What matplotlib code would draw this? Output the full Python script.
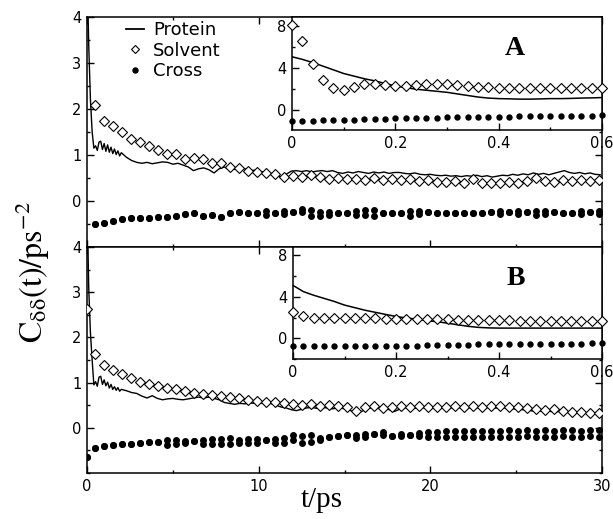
import numpy as np
import matplotlib
matplotlib.use('Agg')
import matplotlib.pyplot as plt
from matplotlib.ticker import MultipleLocator
from matplotlib.lines import Line2D

plt.rcParams['font.family'] = ['DejaVu Sans']
plt.rcParams['mathtext.fontset'] = 'stix'

# ---------------- data ----------------
# protein (line) sampling: dense early part, then coarser
t_prot_early = [0.0, 0.1, 0.2, 0.3, 0.4, 0.5, 0.6, 0.7, 0.8, 0.9, 1.0,
                1.1, 1.2, 1.3, 1.4, 1.5, 1.6, 1.7, 1.8, 1.9, 2.0]
protA_early = [5.1, 3.4, 2.2, 1.5, 1.15, 1.2, 1.1, 1.28, 1.3, 1.12, 1.25,
               1.08, 1.22, 1.06, 1.17, 1.03, 1.13, 1.01, 1.09, 0.98, 1.05]
protA_late = [0.95, 0.88, 0.84, 0.82, 0.84, 0.81, 0.83, 0.85, 0.84, 0.80,
              0.82, 0.78, 0.74, 0.66, 0.70, 0.72, 0.68, 0.61, 0.70, 0.74,
              0.68, 0.69, 0.73, 0.70, 0.66, 0.67, 0.64, 0.63, 0.60, 0.57,
              0.52, 0.58, 0.65, 0.66, 0.64, 0.66, 0.63, 0.65, 0.66, 0.64,
              0.66, 0.62, 0.60, 0.63, 0.61, 0.64, 0.62, 0.60, 0.63, 0.61,
              0.63, 0.60, 0.62, 0.62, 0.60, 0.59, 0.61, 0.58, 0.57, 0.58,
              0.56, 0.55, 0.56, 0.54, 0.55, 0.53, 0.55, 0.54, 0.56, 0.53,
              0.55, 0.52, 0.54, 0.56, 0.55, 0.58, 0.56, 0.59, 0.57, 0.61,
              0.58, 0.60, 0.57, 0.60, 0.63, 0.66, 0.62, 0.60, 0.62, 0.59,
              0.61, 0.58, 0.57]
protB_early = [5.1, 3.1, 2.1, 1.5, 0.95, 1.02, 0.92, 1.12, 1.14, 0.96, 1.06,
               0.93, 1.01, 0.88, 0.96, 0.85, 0.91, 0.83, 0.89, 0.81, 0.85]
protB_late = [0.82, 0.78, 0.76, 0.70, 0.66, 0.71, 0.65, 0.62, 0.64, 0.65,
              0.63, 0.62, 0.64, 0.66, 0.68, 0.66, 0.68, 0.65, 0.62, 0.56,
              0.54, 0.52, 0.54, 0.53, 0.55, 0.54, 0.55, 0.53, 0.54, 0.50,
              0.46, 0.44, 0.40, 0.38, 0.41, 0.44, 0.45, 0.43, 0.45, 0.44,
              0.42, 0.44, 0.43, 0.40, 0.36, 0.33, 0.38, 0.43, 0.45, 0.43,
              0.44, 0.40, 0.36, 0.41, 0.44, 0.45, 0.43, 0.45, 0.44, 0.46,
              0.44, 0.43, 0.45, 0.44, 0.46, 0.44, 0.43, 0.45, 0.44, 0.46,
              0.45, 0.43, 0.44, 0.45, 0.43, 0.42, 0.41, 0.40, 0.39, 0.37,
              0.38, 0.36, 0.37, 0.35, 0.36, 0.34, 0.35, 0.33, 0.34, 0.33,
              0.32, 0.33, 0.38]
t_prot_late = np.linspace(2.3, 29.9, len(protA_late))

# marker sampling times (ps)
t_pts = np.concatenate([[0.0], np.linspace(0.45, 29.85, 57)])

solvA = [8.1, 2.09, 1.75, 1.64, 1.49, 1.34, 1.29, 1.20, 1.10, 1.03, 1.03,
         0.92, 0.94, 0.92, 0.83, 0.83, 0.74, 0.71, 0.65, 0.63, 0.60, 0.58,
         0.52, 0.55, 0.53, 0.56, 0.52, 0.48, 0.50, 0.47, 0.48, 0.46, 0.49,
         0.46, 0.47, 0.45, 0.47, 0.44, 0.46, 0.42, 0.41, 0.44, 0.40, 0.47,
         0.39, 0.40, 0.39, 0.41, 0.39, 0.43, 0.49, 0.44, 0.42, 0.45, 0.43,
         0.46, 0.44, 0.45]
crossA_hi = [-1.05, -0.51, -0.47, -0.44, -0.40, -0.38, -0.36, -0.36, -0.35,
             -0.34, -0.32, -0.29, -0.27, -0.32, -0.30, -0.34, -0.27, -0.24,
             -0.25, -0.25, -0.22, -0.25, -0.21, -0.24, -0.18, -0.20, -0.23,
             -0.24, -0.25, -0.25, -0.21, -0.20, -0.20, -0.25, -0.25, -0.25,
             -0.21, -0.22, -0.24, -0.25, -0.25, -0.26, -0.27, -0.25, -0.25,
             -0.24, -0.22, -0.24, -0.21, -0.24, -0.21, -0.22, -0.24, -0.25,
             -0.25, -0.21, -0.24, -0.22]
crossA_lo = [-1.05, -0.51, -0.47, -0.44, -0.40, -0.38, -0.36, -0.36, -0.35,
             -0.34, -0.32, -0.29, -0.27, -0.32, -0.30, -0.34, -0.27, -0.24,
             -0.25, -0.25, -0.30, -0.25, -0.29, -0.24, -0.23, -0.33, -0.32,
             -0.30, -0.25, -0.25, -0.31, -0.30, -0.33, -0.25, -0.25, -0.25,
             -0.32, -0.29, -0.24, -0.25, -0.25, -0.26, -0.27, -0.25, -0.25,
             -0.24, -0.29, -0.24, -0.28, -0.24, -0.30, -0.28, -0.24, -0.25,
             -0.25, -0.29, -0.24, -0.29]

solvB = [2.62, 1.64, 1.38, 1.28, 1.18, 1.11, 1.01, 0.96, 0.93, 0.89, 0.85,
         0.81, 0.77, 0.74, 0.73, 0.70, 0.68, 0.65, 0.61, 0.59, 0.56, 0.56,
         0.55, 0.52, 0.50, 0.52, 0.49, 0.50, 0.48, 0.45, 0.38, 0.47, 0.49,
         0.44, 0.46, 0.49, 0.46, 0.48, 0.46, 0.47, 0.45, 0.48, 0.47, 0.49,
         0.47, 0.49, 0.48, 0.46, 0.47, 0.44, 0.42, 0.40, 0.41, 0.37, 0.36,
         0.35, 0.33, 0.33]
crossB_hi = [-0.65, -0.44, -0.40, -0.38, -0.36, -0.35, -0.33, -0.32, -0.31,
             -0.27, -0.27, -0.29, -0.30, -0.26, -0.24, -0.24, -0.23, -0.27,
             -0.25, -0.24, -0.28, -0.24, -0.22, -0.15, -0.18, -0.15, -0.23,
             -0.21, -0.19, -0.17, -0.15, -0.13, -0.14, -0.10, -0.18, -0.14,
             -0.15, -0.12, -0.09, -0.10, -0.08, -0.07, -0.08, -0.06, -0.07,
             -0.06, -0.07, -0.05, -0.06, -0.05, -0.06, -0.05, -0.06, -0.04,
             -0.05, -0.06, -0.04, -0.05]
crossB_lo = [-0.65, -0.44, -0.40, -0.38, -0.36, -0.35, -0.33, -0.32, -0.31,
             -0.37, -0.35, -0.33, -0.30, -0.35, -0.35, -0.35, -0.35, -0.33,
             -0.33, -0.34, -0.28, -0.33, -0.33, -0.27, -0.33, -0.31, -0.28,
             -0.21, -0.19, -0.17, -0.22, -0.20, -0.14, -0.17, -0.18, -0.19,
             -0.15, -0.19, -0.20, -0.21, -0.20, -0.21, -0.20, -0.21, -0.20,
             -0.21, -0.20, -0.21, -0.20, -0.19, -0.20, -0.21, -0.20, -0.19,
             -0.20, -0.21, -0.19, -0.20]

# inset (0 - 0.6 ps)
t_in = np.linspace(0.0, 0.6, 31)
in_protA = [5.1, 4.85, 4.55, 4.2, 3.85, 3.5, 3.25, 3.0, 2.8, 2.55, 2.3,
            2.15, 2.0, 1.9, 1.8, 1.7, 1.55, 1.4, 1.25, 1.15, 1.1, 1.08,
            1.05, 1.05, 1.07, 1.1, 1.1, 1.12, 1.15, 1.17, 1.2]
in_solvA = [8.1, 6.6, 4.4, 2.9, 2.1, 1.9, 2.2, 2.5, 2.5, 2.4, 2.3, 2.3,
            2.4, 2.5, 2.5, 2.5, 2.4, 2.3, 2.2, 2.2, 2.1, 2.1, 2.1, 2.1,
            2.1, 2.1, 2.1, 2.1, 2.1, 2.1, 2.1]
in_crossA = [-1.05, -1.03, -1.0, -0.98, -0.95, -0.93, -0.9, -0.88, -0.85,
             -0.83, -0.8, -0.78, -0.75, -0.73, -0.72, -0.7, -0.68, -0.67,
             -0.65, -0.64, -0.63, -0.62, -0.6, -0.6, -0.58, -0.57, -0.56,
             -0.55, -0.54, -0.52, -0.5]
in_protB = [5.1, 4.5, 4.15, 3.85, 3.55, 3.2, 2.95, 2.7, 2.5, 2.3, 2.1,
            1.95, 1.85, 1.7, 1.6, 1.45, 1.3, 1.15, 1.05, 1.0, 0.98, 0.98,
            0.98, 0.98, 0.98, 0.98, 0.98, 0.98, 0.98, 0.98, 0.98]
in_solvB = [2.5, 2.1, 2.0, 2.0, 2.0, 1.95, 1.95, 1.95, 1.95, 1.9, 1.9, 1.9,
            1.9, 1.85, 1.85, 1.85, 1.8, 1.8, 1.8, 1.75, 1.75, 1.75, 1.7,
            1.7, 1.7, 1.7, 1.65, 1.65, 1.65, 1.65, 1.65]
in_crossB = [-0.7, -0.75, -0.76, -0.78, -0.78, -0.78, -0.78, -0.77, -0.76,
             -0.75, -0.74, -0.72, -0.7, -0.68, -0.66, -0.65, -0.63, -0.62,
             -0.6, -0.6, -0.58, -0.57, -0.56, -0.55, -0.55, -0.54, -0.53,
             -0.52, -0.51, -0.5, -0.5]

legend_labels = ['Protein', 'Solvent', 'Cross']
panel_labels = ['A', 'B']

# ---------------- figure ----------------
W, H = 613, 519
fig = plt.figure(figsize=(W / 100, H / 100), dpi=100)


def fr(x0, y0, x1, y1):
    return [x0 / W, 1 - y1 / H, (x1 - x0) / W, (y1 - y0) / H]


tick_fs = 10.5
serif = ['Liberation Serif', 'DejaVu Serif']


def style(ax, labelsize=tick_fs):
    for s in ax.spines.values():
        s.set_linewidth(1.1)
    ax.tick_params(which='both', direction='in', top=True, right=True,
                   labelsize=labelsize, width=1.0, pad=4)
    ax.tick_params(which='major', length=5)
    ax.tick_params(which='minor', length=2.5)


axA = fig.add_axes(fr(87, 17, 602, 247))
axB = fig.add_axes(fr(87, 247, 602, 473))

mk_s = dict(marker='D', ms=5.0, mfc='white', mec='black', mew=0.8, ls='none')
mk_c = dict(marker='o', ms=5.0, mfc='black', mec='black', mew=0, ls='none')

for ax, pe, pl, sv, ch, cl in [(axA, protA_early, protA_late, solvA, crossA_hi, crossA_lo),
                               (axB, protB_early, protB_late, solvB, crossB_hi, crossB_lo)]:
    t_line = np.concatenate([t_prot_early, t_prot_late])
    ax.plot(t_line, np.concatenate([pe, pl]), color='black', lw=1.0, zorder=3)
    ax.plot(t_pts, sv, **mk_s, zorder=4)
    ax.plot(t_pts, ch, **mk_c, zorder=4)
    ax.plot(t_pts, cl, **mk_c, zorder=4)
    ax.set_xlim(0, 30)
    ax.set_ylim(-1, 4)
    ax.xaxis.set_major_locator(MultipleLocator(10))
    ax.xaxis.set_minor_locator(MultipleLocator(5))
    ax.yaxis.set_major_locator(MultipleLocator(1))
    ax.yaxis.set_minor_locator(MultipleLocator(0.5))
    ax.set_yticks([0, 1, 2, 3, 4])
    style(ax)

axA.tick_params(labelbottom=False)

# legend
handles = [Line2D([], [], color='black', lw=1.3),
           Line2D([], [], marker='D', ms=4.0, mfc='white', mec='black', mew=0.8, ls='none'),
           Line2D([], [], marker='o', ms=3.6, mfc='black', mec='black', ls='none')]
axA.legend(handles, legend_labels, loc='upper left', bbox_to_anchor=(0.055, 1.03),
           frameon=False, fontsize=13, handlelength=1.0, handletextpad=0.5,
           labelspacing=0.15, borderaxespad=0.2)

# insets
insA = fig.add_axes(fr(292, 17, 602, 130))
insB = fig.add_axes(fr(293, 247, 602, 359))
mk_si = dict(marker='D', ms=4.8, mfc='white', mec='black', mew=0.8, ls='none')
mk_ci = dict(marker='o', ms=4.6, mfc='black', mec='black', mew=0, ls='none')
for ins, ip, isv, icr, ylo, yhi, lab in [(insA, in_protA, in_solvA, in_crossA, -1.9, 8.9, panel_labels[0]),
                                         (insB, in_protB, in_solvB, in_crossB, -2.0, 8.8, panel_labels[1])]:
    ins.set_facecolor('white')
    ins.plot(t_in, ip, color='black', lw=1.1, zorder=3)
    ins.plot(t_in, isv, **mk_si, zorder=4, clip_on=False)
    ins.plot(t_in, icr, **mk_ci, zorder=4, clip_on=False)
    ins.set_xlim(0, 0.6)
    ins.set_ylim(ylo, yhi)
    ins.set_xticks([0, 0.2, 0.4, 0.6])
    ins.set_xticklabels(['0', '0.2', '0.4', '0.6'])
    ins.xaxis.set_minor_locator(MultipleLocator(0.1))
    ins.set_yticks([0, 4, 8])
    ins.yaxis.set_minor_locator(MultipleLocator(2))
    style(ins)
    ins.tick_params(which='both', top=False, right=False)
    ins.text(0.72, 0.72, lab, transform=ins.transAxes, fontsize=20,
             fontweight='bold', family=serif, ha='center', va='center')

fig.text(33 / W, 1 - 272 / H, r'$\mathrm{C_{\delta\delta}(t)/ps^{-2}}$', rotation=90,
         ha='center', va='center', fontsize=23)
fig.text(322 / W, 1 - 500 / H, 't/ps', ha='center', va='center', fontsize=21,
         family=serif)

fig.savefig('out.png', dpi=100)
